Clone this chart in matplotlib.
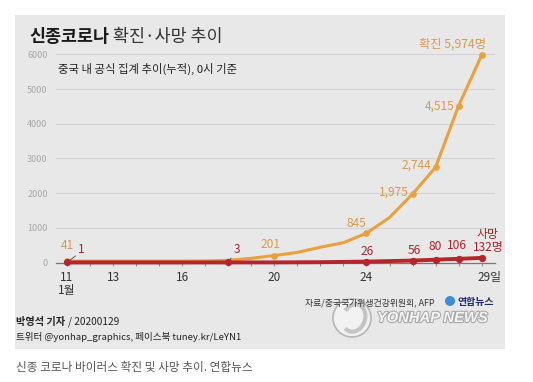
import matplotlib
matplotlib.use("Agg")
import matplotlib.pyplot as plt
import matplotlib.patheffects as pe
from matplotlib.patches import Rectangle, Circle, Arc
from matplotlib.transforms import ScaledTranslation

plt.rcParams['font.family'] = ['Noto Sans CJK KR', 'DejaVu Sans']

# data (1월, 누적)
days = list(range(11, 30))
confirmed = [41, 41, 41, 41, 41, 41, 45, 62, 121, 201, 291, 440, 571, 845,
             1297, 1975, 2744, 4515, 5974]
deaths = [1, 1, 1, 1, 1, 1, 2, 3, 3, 3, 6, 9, 17, 26, 41, 56, 80, 106, 132]

conf_mark_days = [11, 20, 24, 26, 27, 28, 29]
death_mark_days = [11, 18, 24, 26, 27, 28, 29]

xtick_days = [11, 13, 16, 20, 24, 29]
xtick_labels = ['11\n1월', '13', '16', '20', '24', '29일']
yticks = [0, 1000, 2000, 3000, 4000, 5000, 6000]

ORANGE = '#e9a23b'
ORANGE_TXT = '#d99a48'
RED = '#b3262c'
RED_TXT = '#a8242b'
PANEL = '#e8e8e8'

fig = plt.figure(figsize=(5.33, 3.82), dpi=100)
fig.patch.set_facecolor('white')

# background panel + footer (pixel coords)
bg = fig.add_axes([0, 0, 1, 1], zorder=-1)
bg.set_xlim(0, 533)
bg.set_ylim(382, 0)
bg.axis('off')
bg.add_patch(Rectangle((15, 15), 490, 334, color=PANEL, lw=0))

bg.text(29, 37, '신종코로나', fontsize=12.5, fontweight='bold', color='#1a1a1a',
        va='center', ha='left')
bg.text(113, 37, '확진·사망 추이', fontsize=12.5, color='#333333',
        va='center', ha='left')
bg.text(58, 69, '중국 내 공식 집계 추이(누적), 0시 기준', fontsize=8.2,
        color='#222222', va='center', ha='left')

bg.text(16, 322, '박영석 기자', fontsize=7.3, fontweight='bold', color='#222222',
        va='center', ha='left')
bg.text(68, 322, '/ 20200129', fontsize=7.3, color='#222222', va='center', ha='left')
bg.text(16, 337, '트위터 @yonhap_graphics, 페이스북 tuney.kr/LeYN1', fontsize=6.9,
        color='#222222', va='center', ha='left')

# watermark
bg.add_patch(Circle((352, 318), 19, facecolor='#f2f2f2', edgecolor='#b5b5b5', lw=1.2))
bg.add_patch(Arc((354, 318), 22, 28, angle=20, theta1=200, theta2=470,
                 color='#c4c4c4', lw=3))
wm = bg.text(377, 318, 'YONHAP NEWS', fontsize=10.6, fontweight='bold', style='italic',
             family='Liberation Sans', color='#f6f6f6', ha='left', va='center')
wm.set_path_effects([pe.withStroke(linewidth=1.6, foreground='#a9a9a9')])

bg.text(305, 302.5, '자료/중국국가위생건강위원회, AFP', fontsize=6.4, color='#333333',
        ha='left', va='center')
bg.add_patch(Circle((450, 301), 5, color='#3b8ed8', lw=0))
bg.text(457, 301.5, '연합뉴스', fontsize=7.2, fontweight='bold', color='#1e2c6e',
        ha='left', va='center')

bg.text(16, 368, '신종 코로나 바이러스 확진 및 사망 추이. 연합뉴스', fontsize=8.4,
        color='#555555', ha='left', va='center')

# main chart
ax = fig.add_axes([56 / 533, 1 - 262.5 / 382, (495 - 56) / 533, (262.5 - 54.3) / 382])
ax.set_facecolor('none')
ax.set_xlim(10.52, 29.58)
ax.set_ylim(0, 6000)

ax.set_yticks(yticks)
ax.set_yticklabels([str(v) for v in yticks])
ax.grid(axis='y', color='#d3d3d3', lw=0.8)
ax.set_axisbelow(True)
for s in ['top', 'right', 'left']:
    ax.spines[s].set_visible(False)
ax.spines['bottom'].set_color('#777777')
ax.spines['bottom'].set_linewidth(0.9)
ax.tick_params(axis='y', length=0, pad=6, labelsize=6.5, labelcolor='#a8a8a8')

ax.set_xticks(days, minor=True)
ax.set_xticks(xtick_days)
ax.set_xticklabels(xtick_labels, linespacing=1.05)
ax.tick_params(axis='x', which='both', direction='out', length=2.5, width=0.7,
               color='#888888', pad=3.5, labelsize=8.5, labelcolor='#333333')
last = ax.get_xticklabels()[-1]
last.set_ha('left')
last.set_transform(last.get_transform() + ScaledTranslation(-4 / 100, 0, fig.dpi_scale_trans))

conf_idx = [days.index(d) for d in conf_mark_days]
death_idx = [days.index(d) for d in death_mark_days]
ax.plot(days, confirmed, color=ORANGE, lw=2.2, marker='o', ms=3.8,
        markevery=conf_idx, clip_on=False, zorder=3, solid_capstyle='round')
ax.plot(days, deaths, color=RED, lw=2.8, marker='o', ms=4.2,
        markevery=death_idx, clip_on=False, zorder=4, solid_capstyle='round')


def lab(d, vals, txt, dx, dy, color, ha='center', size=8.6):
    ax.annotate(txt, (d, vals[days.index(d)]), xytext=(dx, dy),
                textcoords='offset points', ha=ha, va='center',
                color=color, fontsize=size, linespacing=1.0)


# confirmed labels
lab(11, confirmed, f'{confirmed[0]:,}', 0, 11, ORANGE_TXT)
lab(20, confirmed, f'{confirmed[days.index(20)]:,}', -3, 8, ORANGE_TXT)
lab(24, confirmed, f'{confirmed[days.index(24)]:,}', -7, 7, ORANGE_TXT)
lab(26, confirmed, f'{confirmed[days.index(26)]:,}', -2.5, 1.5, ORANGE_TXT, ha='right')
lab(27, confirmed, f'{confirmed[days.index(27)]:,}', -3.5, 1.5, ORANGE_TXT, ha='right')
lab(28, confirmed, f'{confirmed[days.index(28)]:,}', -3, 0, ORANGE_TXT, ha='right')
lab(29, confirmed, f'확진 {confirmed[-1]:,}명', 3, 8, ORANGE_TXT, ha='right', size=8.8)

# death labels
for d, (dx, dy) in zip([24, 26, 27, 28], [(0.5, 7.5), (1, 7.5), (0, 9.5), (-1, 9.5)]):
    lab(d, deaths, f'{deaths[days.index(d)]:,}', dx, dy, RED_TXT)
lab(29, deaths, f'사망\n{deaths[-1]:,}명', 4.5, 12.5, RED_TXT, size=8.6)

for d, (dx, dy) in [(11, (8, 9.5)), (18, (4, 9.5))]:
    ax.annotate(f'{deaths[days.index(d)]}', (d, deaths[days.index(d)]), xytext=(dx, dy),
                textcoords='offset points', ha='left', va='center',
                color=RED_TXT, fontsize=8.6,
                arrowprops=dict(arrowstyle='-', color='#444444', lw=0.6,
                                relpos=(0.0, 0.15), shrinkA=0, shrinkB=2))

fig.savefig('out.png', dpi=100)
